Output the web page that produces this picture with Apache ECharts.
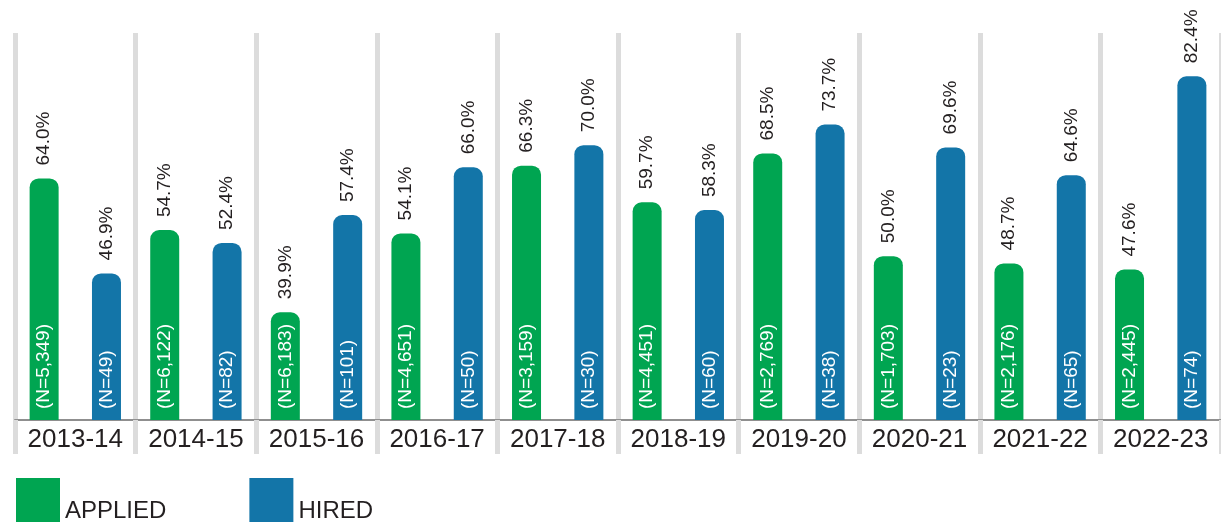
<!DOCTYPE html>
<html>
<head>
<meta charset="utf-8">
<script src="https://cdn.jsdelivr.net/npm/echarts@6/dist/echarts.min.js"></script>
<style>
  html, body { margin: 0; padding: 0; background: #fff; }
  #main { width: 1221px; height: 522px; }
</style>
</head>
<body>
<div id="main"></div>
<script>
// school years
var years = ['2013-14', '2014-15', '2015-16', '2016-17', '2017-18', '2018-19', '2019-20', '2020-21', '2021-22', '2022-23'];

// applied: percent and sample size
var appliedPct = [64.0, 54.7, 39.9, 54.1, 66.3, 59.7, 68.5, 50.0, 48.7, 47.6];
var appliedN = [5349, 6122, 6183, 4651, 3159, 4451, 2769, 1703, 2176, 2445];

// hired: percent and sample size
var hiredPct = [46.9, 52.4, 57.4, 66.0, 70.0, 58.3, 73.7, 69.6, 64.6, 82.4];
var hiredN = [49, 82, 101, 50, 30, 60, 38, 23, 65, 74];

var GREEN = '#00a551';
var BLUE = '#1375a8';
var FONT = '"Liberation Sans", Arial, sans-serif';

function fmtN(n) {
  return '(N=' + n.toLocaleString('en-US') + ')';
}

// coloured bars with the percent on top
function pctSeries(name, pct, color) {
  return {
    name: name,
    type: 'bar',
    barWidth: 29,
    barGap: '115%',
    itemStyle: { color: color, borderRadius: [9, 9, 0, 0] },
    label: {
      show: true,
      position: 'top',
      distance: 13,
      rotate: 90,
      align: 'left',
      verticalAlign: 'middle',
      fontFamily: FONT,
      fontSize: 19,
      color: '#231f20',
      formatter: function (p) { return pct[p.dataIndex].toFixed(1) + '%'; }
    },
    data: pct
  };
}

// transparent copy on a hidden axis, only to carry the N label at the bar foot
function nSeries(name, pct, ns) {
  return {
    name: name,
    type: 'bar',
    xAxisIndex: 1,
    barWidth: 29,
    barGap: '115%',
    z: 3,
    silent: true,
    itemStyle: { color: 'transparent' },
    label: {
      show: true,
      position: 'insideBottom',
      distance: 11,
      rotate: 90,
      align: 'left',
      verticalAlign: 'middle',
      fontFamily: FONT,
      fontSize: 19,
      color: '#ffffff',
      formatter: function (p) { return fmtN(ns[p.dataIndex]); }
    },
    data: pct
  };
}

var myChart = echarts.init(document.getElementById('main'));

myChart.setOption({
  animation: false,
  textStyle: { fontFamily: FONT },
  legend: {
    data: ['APPLIED', 'HIRED'],
    left: 16,
    top: 478,
    padding: 0,
    itemWidth: 44,
    itemHeight: 44,
    itemGap: 83,
    icon: 'rect',
    formatter: '{t|{name}}',
    textStyle: {
      fontFamily: FONT,
      fontSize: 24,
      color: '#231f20',
      rich: {
        t: {
          fontFamily: FONT,
          fontSize: 24,
          color: '#231f20',
          padding: [22, 0, 0, 0]
        }
      }
    }
  },
  grid: {
    left: 15,
    top: 33,
    width: 1210,
    height: 387
  },
  xAxis: [
    {
      type: 'category',
      data: years,
      axisLine: { show: true, lineStyle: { color: '#8f8f8f', width: 2 } },
      axisTick: {
        show: true,
        interval: 0,
        length: 34,
        lineStyle: { color: '#dcdcdc', width: 5 }
      },
      splitLine: {
        show: true,
        interval: 0,
        lineStyle: { color: '#dcdcdc', width: 5 }
      },
      axisLabel: {
        interval: 0,
        margin: 7,
        fontFamily: FONT,
        fontSize: 26,
        color: '#231f20'
      }
    },
    {
      type: 'category',
      data: years,
      show: false
    }
  ],
  yAxis: {
    type: 'value',
    min: 20.5,
    max: 90.2,
    show: false
  },
  series: [
    pctSeries('APPLIED', appliedPct, GREEN),
    pctSeries('HIRED', hiredPct, BLUE),
    nSeries('APPLIED', appliedPct, appliedN),
    nSeries('HIRED', hiredPct, hiredN)
  ]
});
</script>
</body>
</html>
